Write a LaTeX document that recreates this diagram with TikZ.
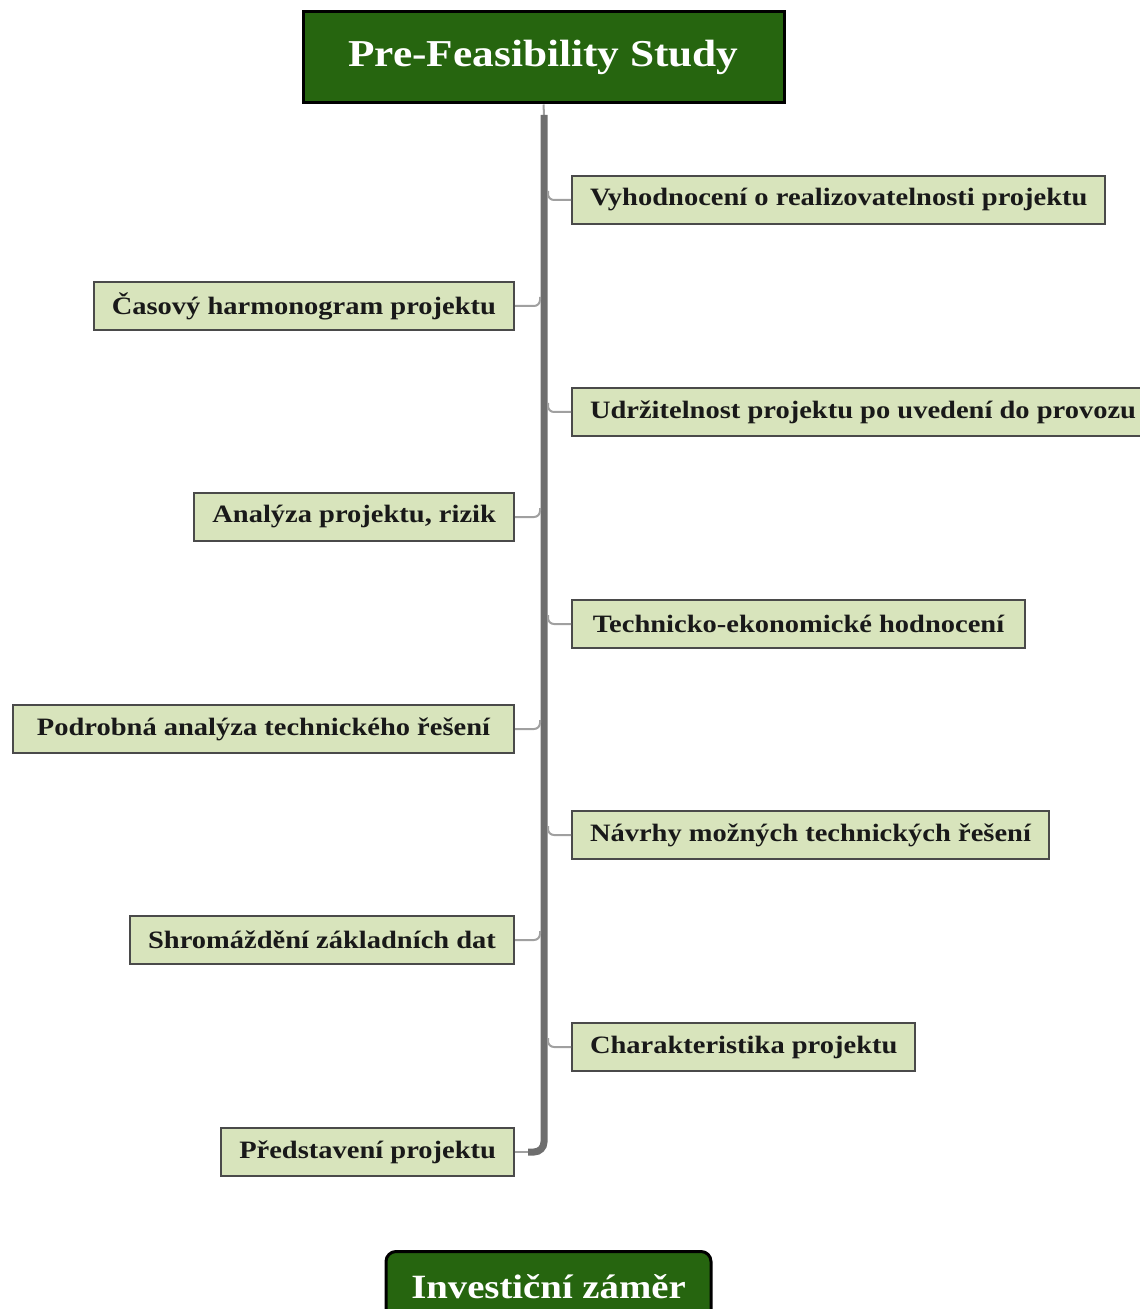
\documentclass[tikz,border=0pt]{standalone}
\usepackage{fontspec}
\setmainfont{Liberation Serif}[FakeStretch=1.14]
\definecolor{darkgreen}{HTML}{26650F}
\definecolor{boxgreen}{HTML}{D8E4BC}
\definecolor{spinegray}{HTML}{6E6E6E}
\definecolor{branchgray}{HTML}{A0A0A0}
\definecolor{boxline}{HTML}{4A4A4A}
\begin{document}
\begin{tikzpicture}[x=0.5pt,y=-0.5pt,
  item/.style={draw=boxline, line width=1pt, fill=boxgreen, minimum height=24pt,
    inner xsep=9pt, inner ysep=0pt, text=black!90,
    font=\bfseries\fontsize{12.5}{13}\selectfont},
  head/.style={draw=black, line width=1.5pt, fill=darkgreen, text=white,
    font=\bfseries\fontsize{19}{21}\selectfont},
  branch/.style={draw=branchgray, line width=1pt, rounded corners=3pt},
  spine/.style={draw=spinegray, line width=3.5pt, rounded corners=5pt}]
\useasboundingbox (0,0) rectangle (1139,1309);

% heads
\node[head, minimum width=240.5pt, minimum height=45.5pt] (top) at (543.5,57.5) {Pre-Feasibility Study};
\node[head, rounded corners=5pt, minimum width=162.5pt, minimum height=35pt, anchor=north,
  font=\bfseries\fontsize{17}{19}\selectfont] (bot) at (548.5,1250) {Investiční záměr};

% right items
\node[item, anchor=west] (r1) at (571,200) {Vyhodnocení o realizovatelnosti projektu};
\node[item, anchor=west] (r2) at (571,412) {Udržitelnost projektu po uvedení do provozu};
\node[item, anchor=west, minimum width=226.5pt] (r3) at (571,624) {Technicko-ekonomické hodnocení};
\node[item, anchor=west] (r4) at (571,835) {Návrhy možných technických řešení};
\node[item, anchor=west] (r5) at (571,1047) {Charakteristika projektu};

% left items
\node[item, anchor=east] (l1) at (515,306) {Časový harmonogram projektu};
\node[item, anchor=east] (l2) at (515,517) {Analýza projektu, rizik};
\node[item, anchor=east, minimum width=250.5pt] (l3) at (515,729) {Podrobná analýza technického řešení};
\node[item, anchor=east] (l4) at (515,940) {Shromáždění základních dat};
\node[item, anchor=east] (l5) at (515,1152) {Představení projektu};

% spine
\coordinate (s0) at (544,115);
\coordinate (s1) at (544,1152);
\coordinate (s2) at (528,1152);
\draw[branch] (top.south) -- (s0);
\draw[spine] (s0) -- (s1) -- (s2);
\draw[branch] (s2) -- (l5.east);

% branches
\foreach \n/\y in {r1/200,r2/412,r3/624,r4/835,r5/1047}{
  \draw[branch] (548,\y-9) |- (\n.west);
}
\foreach \n/\y in {l1/306,l2/517,l3/729,l4/940}{
  \draw[branch] (540,\y-9) |- (\n.east);
}
\end{tikzpicture}
\end{document}
